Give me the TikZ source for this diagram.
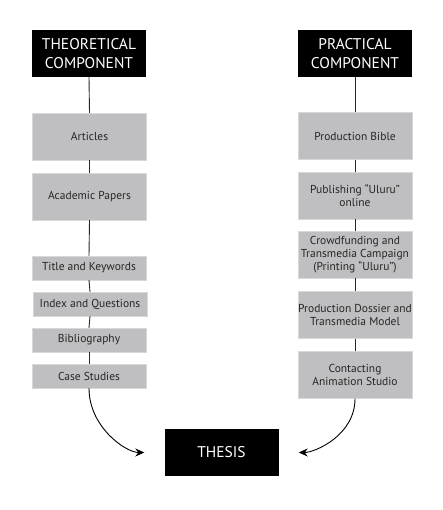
\documentclass[tikz,border=0pt]{standalone}
\usepackage{fontspec}
\setmainfont{PT Sans}
\usetikzlibrary{arrows.meta}
\definecolor{boxGray}{RGB}{191,191,193}
\definecolor{edgeGray}{RGB}{216,216,218}

\begin{document}
\begin{tikzpicture}[x=1pt, y=-1pt,
  head/.style={fill=black, text=white, minimum width=114pt, minimum height=47pt, inner sep=0pt, align=center, font=\fontsize{15.5}{19}\selectfont},
  item/.style={fill=boxGray, draw=edgeGray, text=black!85, minimum width=114pt, inner sep=0pt, align=center, font=\fontsize{11.5}{13}\selectfont},
  tall/.style={item, minimum height=47pt},
  short/.style={item, minimum height=24pt},
  link/.style={draw=black!85, line width=0.9pt},
  curvearrow/.style={draw=black, line width=0.9pt, -{Stealth[length=9pt, width=8pt, inset=3pt]}, shorten >=20pt}]
\useasboundingbox (0,0) rectangle (442,510);
% left column
\node[head] (theo) at (89,53.5) {THEORETICAL\\COMPONENT};
\node[tall] (articles) at (89.5,136.5) {Articles};
\node[tall] (papers) at (89.5,196.5) {Academic Papers};
\node[short] (title) at (89,268) {Title and Keywords};
\node[short] (index) at (90,304) {Index and Questions};
\node[short] (biblio) at (89,340) {Bibliography};
\node[short] (cases) at (89,376) {Case Studies};
% right column
\node[head] (prac) at (355,53.5) {PRACTICAL\\COMPONENT};
\node[tall] (bible) at (355,136) {Production Bible};
\node[tall] (publish) at (355,195.5) {Publishing ``Uluru''\\online};
\node[tall] (crowd) at (355,254.5) {Crowdfunding and\\Transmedia Campaign\\(Printing ``Uluru'')};
\node[tall] (dossier) at (355,315) {Production Dossier and\\Transmedia Model};
\node[tall] (studio) at (355,375) {Contacting\\Animation Studio};
% result
\node[head] (thesis) at (221.5,452.5) {THESIS};
\foreach \a/\b in {theo/articles, articles/papers, papers/title, title/index, index/biblio, biblio/cases,
  prac/bible, bible/publish, publish/crowd, crowd/dossier, dossier/studio}
  \draw[link] (\a.south) -- (\b.north);
\draw[curvearrow] (cases.south) to[out=-90, in=180] (thesis.west);
\draw[curvearrow] (studio.south) to[out=-90, in=0] (thesis.east);
\end{tikzpicture}
\end{document}
